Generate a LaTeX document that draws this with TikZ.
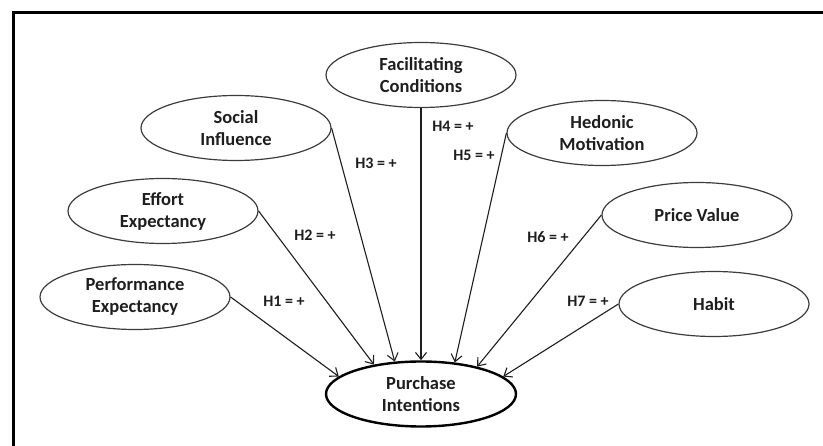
\documentclass[tikz,border=0pt]{standalone}
\usepackage{fontspec}
\setmainfont{Carlito}
\usepackage{tikz}
\usetikzlibrary{arrows.meta,shapes.geometric}
\definecolor{ink}{HTML}{1E1E1E}
\definecolor{rim}{HTML}{3C3C3C}

\begin{document}
\begin{tikzpicture}[x=1pt,y=-1pt,
  construct/.style={ellipse,draw=rim,line width=1.2pt,minimum width=190pt,minimum height=65pt,inner sep=0pt,
    align=center,text=ink,font=\fontsize{18.5}{22}\selectfont\bfseries},
  outcome/.style={construct,draw=black,line width=2.4pt},
  hyp/.style={text=ink,font=\fontsize{16}{18}\selectfont\bfseries},
  path/.style={draw=ink,line width=1.1pt,-{Straight Barb[length=7pt,width=11pt]}}]
  \useasboundingbox (0,0) rectangle (823,446);
  \draw[line width=3pt,black] (13,446) -- (13,13) -- (823,13);
  % constructs
  \node[construct] (fc) at (421,75)  {Facilitating\\Conditions};
  \node[construct] (si) at (236,128) {Social\\Influence};
  \node[construct] (ee) at (163,211) {Effort\\Expectancy};
  \node[construct] (pe) at (135,297) {Performance\\Expectancy};
  \node[construct] (hm) at (602,133) {Hedonic\\Motivation};
  \node[construct] (pv) at (697,215) {Price Value};
  \node[construct] (hb) at (714,304) {Habit};
  \node[outcome]   (pi) at (421,394) {Purchase\\Intentions};
  % hypotheses
  \draw[path] (pe.east)  -- (pi.168);
  \draw[path] (ee.east)  -- (pi.148);
  \draw[path] (si.east)  -- (pi.129);
  \draw[path] (fc.south) -- (pi.90);
  \draw[path] (hm.west)  -- (pi.43);
  \draw[path] (pv.west)  -- (pi.26);
  \draw[path] (hb.west)  -- (pi.12);
  \node[hyp] (h1) at (284,301) {H1 = +};
  \node[hyp] (h2) at (315,235) {H2 = +};
  \node[hyp] (h3) at (376,163) {H3 = +};
  \node[hyp] (h4) at (453,126) {H4 = +};
  \node[hyp] (h5) at (474,155) {H5 = +};
  \node[hyp] (h6) at (548,237) {H6 = +};
  \node[hyp] (h7) at (588,301) {H7 = +};
\end{tikzpicture}
\end{document}
